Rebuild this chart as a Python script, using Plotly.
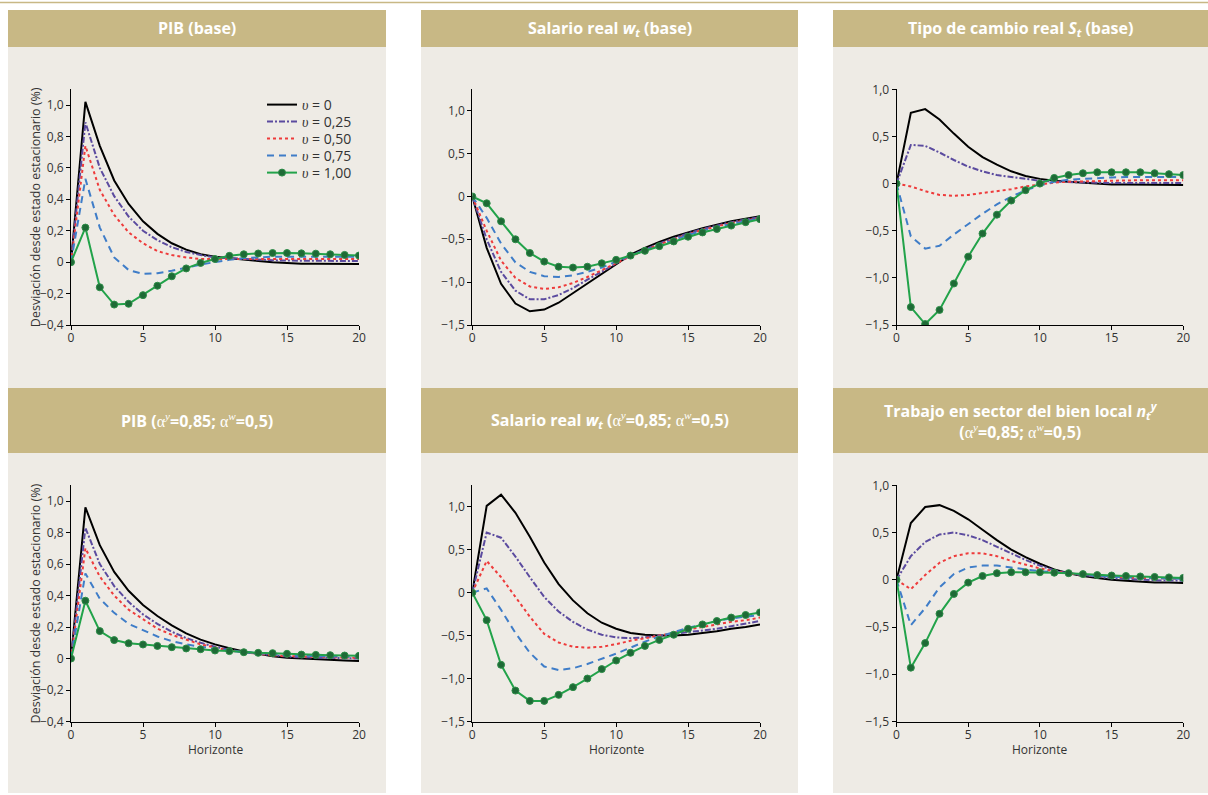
import plotly.graph_objects as go

W, H = 1208, 795

horizonte = list(range(21))
UPS = "<span style='font-family:Liberation Serif'><i>υ</i></span>"
series_labels = [UPS + " = 0", UPS + " = 0,25", UPS + " = 0,50", UPS + " = 0,75", UPS + " = 1,00"]

# Panel 1: PIB (base)
pib_base_v000 = [0, 1.02, 0.74, 0.52, 0.37, 0.26, 0.18, 0.12, 0.08, 0.05, 0.035, 0.025, 0.015, 0.008, 0.0, -0.005, -0.01, -0.01, -0.012, -0.012, -0.012]
pib_base_v025 = [0, 0.89, 0.60, 0.42, 0.29, 0.20, 0.14, 0.095, 0.065, 0.045, 0.03, 0.025, 0.02, 0.015, 0.012, 0.01, 0.01, 0.008, 0.008, 0.007, 0.007]
pib_base_v050 = [0, 0.74, 0.46, 0.30, 0.19, 0.12, 0.07, 0.045, 0.03, 0.02, 0.02, 0.02, 0.02, 0.02, 0.02, 0.02, 0.02, 0.02, 0.02, 0.02, 0.02]
pib_base_v075 = [0, 0.53, 0.22, 0.03, -0.05, -0.075, -0.07, -0.055, -0.035, -0.015, 0.0, 0.015, 0.025, 0.03, 0.035, 0.035, 0.035, 0.035, 0.035, 0.035, 0.035]
pib_base_v100 = [0, 0.22, -0.16, -0.27, -0.265, -0.21, -0.15, -0.09, -0.04, -0.005, 0.02, 0.04, 0.05, 0.055, 0.058, 0.058, 0.056, 0.054, 0.05, 0.046, 0.042]

# Panel 2: Salario real (base)
sal_base_v000 = [0, -0.60, -1.02, -1.25, -1.34, -1.32, -1.24, -1.13, -1.01, -0.90, -0.79, -0.68, -0.60, -0.53, -0.47, -0.42, -0.37, -0.33, -0.29, -0.26, -0.23]
sal_base_v025 = [0, -0.50, -0.88, -1.10, -1.20, -1.20, -1.15, -1.07, -0.97, -0.88, -0.78, -0.69, -0.62, -0.55, -0.49, -0.43, -0.38, -0.34, -0.30, -0.27, -0.24]
sal_base_v050 = [0, -0.40, -0.75, -0.95, -1.05, -1.08, -1.06, -1.01, -0.94, -0.86, -0.78, -0.70, -0.63, -0.56, -0.50, -0.44, -0.39, -0.35, -0.31, -0.28, -0.25]
sal_base_v075 = [0, -0.25, -0.55, -0.77, -0.88, -0.93, -0.94, -0.92, -0.88, -0.83, -0.76, -0.69, -0.63, -0.57, -0.51, -0.45, -0.40, -0.36, -0.32, -0.29, -0.26]
sal_base_v100 = [0, -0.08, -0.29, -0.50, -0.66, -0.76, -0.82, -0.83, -0.82, -0.78, -0.74, -0.69, -0.635, -0.58, -0.525, -0.47, -0.42, -0.38, -0.34, -0.30, -0.265]

# Panel 3: Tipo de cambio real (base)
tcr_base_v000 = [0, 0.75, 0.79, 0.68, 0.53, 0.39, 0.28, 0.20, 0.13, 0.08, 0.05, 0.03, 0.02, 0.01, 0.0, -0.01, -0.01, -0.012, -0.014, -0.014, -0.014]
tcr_base_v025 = [0, 0.41, 0.40, 0.33, 0.25, 0.18, 0.13, 0.09, 0.07, 0.05, 0.03, 0.02, 0.015, 0.01, 0.008, 0.006, 0.005, 0.005, 0.005, 0.005, 0.005]
tcr_base_v050 = [0, -0.03, -0.08, -0.12, -0.13, -0.12, -0.10, -0.08, -0.06, -0.03, -0.01, 0.01, 0.02, 0.025, 0.03, 0.03, 0.033, 0.035, 0.036, 0.036, 0.036]
tcr_base_v075 = [0, -0.56, -0.69, -0.66, -0.54, -0.43, -0.32, -0.22, -0.14, -0.07, -0.02, 0.02, 0.04, 0.05, 0.06, 0.065, 0.07, 0.07, 0.07, 0.07, 0.07]
tcr_base_v100 = [0, -1.31, -1.49, -1.34, -1.06, -0.775, -0.53, -0.33, -0.18, -0.07, 0.0, 0.06, 0.09, 0.11, 0.12, 0.12, 0.12, 0.12, 0.11, 0.10, 0.09]

# Panel 4: PIB (alfa)
pib_alfa_v000 = [0, 0.96, 0.72, 0.55, 0.43, 0.34, 0.27, 0.21, 0.16, 0.12, 0.09, 0.065, 0.045, 0.03, 0.015, 0.005, 0.0, -0.005, -0.01, -0.012, -0.015]
pib_alfa_v025 = [0, 0.83, 0.60, 0.46, 0.36, 0.28, 0.22, 0.17, 0.13, 0.10, 0.075, 0.055, 0.04, 0.03, 0.02, 0.012, 0.008, 0.005, 0.003, 0.001, 0.0]
pib_alfa_v050 = [0, 0.70, 0.52, 0.40, 0.31, 0.25, 0.19, 0.15, 0.12, 0.09, 0.07, 0.05, 0.04, 0.03, 0.02, 0.015, 0.012, 0.01, 0.008, 0.006, 0.005]
pib_alfa_v075 = [0, 0.54, 0.38, 0.29, 0.22, 0.18, 0.14, 0.11, 0.09, 0.075, 0.06, 0.05, 0.04, 0.035, 0.025, 0.02, 0.017, 0.015, 0.013, 0.011, 0.01]
pib_alfa_v100 = [0, 0.367, 0.174, 0.117, 0.097, 0.089, 0.08, 0.072, 0.064, 0.059, 0.051, 0.047, 0.04, 0.036, 0.034, 0.03, 0.025, 0.023, 0.021, 0.019, 0.017]

# Panel 5: Salario real (alfa)
sal_alfa_v000 = [0, 1.01, 1.14, 0.93, 0.65, 0.35, 0.10, -0.09, -0.24, -0.35, -0.42, -0.47, -0.49, -0.50, -0.50, -0.49, -0.47, -0.45, -0.42, -0.40, -0.37]
sal_alfa_v025 = [0, 0.70, 0.64, 0.42, 0.18, -0.05, -0.22, -0.34, -0.43, -0.49, -0.52, -0.53, -0.52, -0.50, -0.48, -0.46, -0.44, -0.42, -0.39, -0.36, -0.33]
sal_alfa_v050 = [0, 0.37, 0.18, -0.05, -0.28, -0.48, -0.58, -0.63, -0.64, -0.63, -0.60, -0.56, -0.53, -0.50, -0.47, -0.43, -0.40, -0.37, -0.34, -0.32, -0.29]
sal_alfa_v075 = [0, 0.05, -0.20, -0.47, -0.70, -0.86, -0.90, -0.88, -0.83, -0.77, -0.71, -0.64, -0.57, -0.51, -0.46, -0.41, -0.37, -0.33, -0.30, -0.28, -0.26]
sal_alfa_v100 = [0, -0.32, -0.84, -1.14, -1.26, -1.26, -1.19, -1.10, -1.00, -0.89, -0.79, -0.70, -0.62, -0.55, -0.49, -0.42, -0.37, -0.33, -0.29, -0.26, -0.23]

# Panel 6: Trabajo en sector del bien local (alfa)
trab_alfa_v000 = [0, 0.60, 0.77, 0.79, 0.73, 0.64, 0.53, 0.42, 0.32, 0.24, 0.17, 0.11, 0.07, 0.04, 0.02, 0.0, -0.01, -0.02, -0.03, -0.03, -0.035]
trab_alfa_v025 = [0, 0.25, 0.40, 0.48, 0.50, 0.47, 0.42, 0.35, 0.28, 0.21, 0.15, 0.10, 0.07, 0.05, 0.03, 0.015, 0.01, 0.0, -0.005, -0.008, -0.01]
trab_alfa_v050 = [0, -0.10, 0.05, 0.18, 0.25, 0.28, 0.28, 0.25, 0.20, 0.16, 0.12, 0.09, 0.07, 0.05, 0.04, 0.03, 0.025, 0.02, 0.015, 0.012, 0.01]
trab_alfa_v075 = [0, -0.48, -0.30, -0.08, 0.06, 0.13, 0.15, 0.15, 0.13, 0.11, 0.09, 0.08, 0.07, 0.05, 0.04, 0.03, 0.025, 0.02, 0.015, 0.012, 0.01]
trab_alfa_v100 = [0, -0.93, -0.67, -0.36, -0.15, -0.03, 0.04, 0.07, 0.08, 0.08, 0.08, 0.075, 0.07, 0.06, 0.05, 0.045, 0.04, 0.035, 0.03, 0.025, 0.02]

x_ticks = [0, 5, 10, 15, 20]
x_ticktext = ["0", "5", "10", "15", "20"]
pib_yticks = [-0.4, -0.2, 0, 0.2, 0.4, 0.6, 0.8, 1.0]
pib_yticktext = ["\u22120,4", "\u22120,2", "0", "0,2", "0,4", "0,6", "0,8", "1,0"]
big_yticks = [-1.5, -1.0, -0.5, 0, 0.5, 1.0]
big_yticktext = ["\u22121,5", "\u22121,0", "\u22120,5", "0", "0,5", "1,0"]

alpha = "<span style='font-family:Liberation Serif;font-weight:normal'>α<sup><i>y</i></sup></span>"
alphaw = "<span style='font-family:Liberation Serif;font-weight:normal'>α<sup><i>w</i></sup></span>"
titles = [
    "PIB (base)",
    "Salario real <i>w</i><sub><i>t</i></sub> (base)",
    "Tipo de cambio real <i>S</i><sub><i>t</i></sub> (base)",
    "PIB (" + alpha + "=0,85; " + alphaw + "=0,5)",
    "Salario real <i>w</i><sub><i>t</i></sub> (" + alpha + "=0,85; " + alphaw + "=0,5)",
    "Trabajo en sector del bien local <i>n</i><sub><i>t</i></sub><sup><i>y</i></sup><br>(" + alpha + "=0,85; " + alphaw + "=0,5)",
]

panel_series = [
    [pib_base_v000, pib_base_v025, pib_base_v050, pib_base_v075, pib_base_v100],
    [sal_base_v000, sal_base_v025, sal_base_v050, sal_base_v075, sal_base_v100],
    [tcr_base_v000, tcr_base_v025, tcr_base_v050, tcr_base_v075, tcr_base_v100],
    [pib_alfa_v000, pib_alfa_v025, pib_alfa_v050, pib_alfa_v075, pib_alfa_v100],
    [sal_alfa_v000, sal_alfa_v025, sal_alfa_v050, sal_alfa_v075, sal_alfa_v100],
    [trab_alfa_v000, trab_alfa_v025, trab_alfa_v050, trab_alfa_v075, trab_alfa_v100],
]

# Layout geometry (pixels)
panel_x = [(8, 386), (421, 798), (833, 1208)]
plot_x = [(71, 359), (472.3, 760), (896.5, 1183.3)]
row_header = [(10, 47), (388, 453)]
row_body = [(47, 388), (453, 793)]
row_plot = [(89.3, 325), (485.3, 721.5)]
yranges = [[-0.4, 1.1], [-1.5, 1.25], [-1.5, 1.0]]
yticks = [(pib_yticks, pib_yticktext), (big_yticks, big_yticktext), (big_yticks, big_yticktext)]
legend_rows_px = [105, 122, 139, 156, 173]
legend_left_px = 262

line_styles = [
    dict(color="#000000", width=2, dash="solid"),
    dict(color="#5B4B9F", width=2, dash="6px,2px,2px,2px"),
    dict(color="#EE3B3B", width=2, dash="3px,3px"),
    dict(color="#3F7DC8", width=2, dash="7px,5px"),
    dict(color="#22A34A", width=2, dash="solid"),
]

HEADER = "#C8B885"
BODY = "#EEEBE5"
FONT = "Open Sans"

fig = go.Figure()
shapes = []
annotations = []

# top rule
shapes.append(dict(type="line", xref="paper", yref="paper", x0=0, x1=1, y0=1 - 2.5 / H, y1=1 - 2.5 / H,
                   line=dict(color=HEADER, width=1.5), layer="below"))

legend_names = ["legend", "legend2", "legend3", "legend4", "legend5"]

for p in range(6):
    r, c = divmod(p, 3)
    ax = "" if p == 0 else str(p + 1)
    xa, ya = "x" + ax, "y" + ax
    px0, px1 = panel_x[c]
    shapes.append(dict(type="rect", xref="paper", yref="paper", x0=px0 / W, x1=px1 / W,
                       y0=1 - row_body[r][1] / H, y1=1 - row_body[r][0] / H,
                       fillcolor=BODY, line=dict(width=0), layer="below"))
    shapes.append(dict(type="rect", xref="paper", yref="paper", x0=px0 / W, x1=px1 / W,
                       y0=1 - row_header[r][1] / H, y1=1 - row_header[r][0] / H,
                       fillcolor=HEADER, line=dict(width=0), layer="below"))
    annotations.append(dict(xref="paper", yref="paper", x=(px0 + px1) / 2 / W,
                            y=1 - (row_header[r][0] + row_header[r][1]) / 2 / H,
                            text="<b>" + titles[p] + "</b>", showarrow=False,
                            font=dict(family=FONT, size=16, color="white"),
                            xanchor="center", yanchor="middle", align="center"))
    for k in range(5):
        st = line_styles[k]
        tr = dict(x=horizonte, y=panel_series[p][k], xaxis=xa, yaxis=ya, name=series_labels[k],
                  line=st, showlegend=(p == 0), legend=legend_names[k], hoverinfo="skip")
        if k == 4:
            tr.update(mode="lines+markers",
                      marker=dict(size=7, color="#1E6A36", line=dict(color="#2C8C47", width=1)))
        else:
            tr.update(mode="lines")
        fig.add_trace(go.Scatter(**tr))

    xdom = [plot_x[c][0] / W, plot_x[c][1] / W]
    ydom = [1 - row_plot[r][1] / H, 1 - row_plot[r][0] / H]
    axis_common = dict(showline=True, linecolor="black", linewidth=1, ticks="outside", ticklen=4,
                       tickcolor="black", tickwidth=1, showgrid=False, zeroline=False, fixedrange=True,
                       automargin=False, tickfont=dict(family=FONT, size=12, color="#333333"))
    fig.layout["xaxis" + ax] = dict(domain=xdom, range=[0, 20], anchor=ya, tickvals=x_ticks,
                                    ticktext=x_ticktext, ticklabelstandoff=-2, **axis_common)
    fig.layout["yaxis" + ax] = dict(domain=ydom, range=yranges[c], anchor=xa, tickvals=yticks[c][0],
                                    ticktext=yticks[c][1], **axis_common)
    if r == 1:
        annotations.append(dict(xref="paper", yref="paper", x=(plot_x[c][0] + plot_x[c][1]) / 2 / W,
                                y=1 - 749 / H, text="Horizonte", showarrow=False,
                                font=dict(family=FONT, size=12, color="#333333"),
                                xanchor="center", yanchor="middle"))
    if c == 0:
        annotations.append(dict(xref="paper", yref="paper", x=35 / W,
                                y=1 - (row_plot[r][0] + row_plot[r][1]) / 2 / H,
                                text="Desviación desde estado estacionario (%)", showarrow=False,
                                textangle=-90, font=dict(family=FONT, size=12.5, color="#333333"),
                                xanchor="center", yanchor="middle"))

layout_legends = {}
for k, name in enumerate(legend_names):
    layout_legends[name] = dict(x=legend_left_px / W, y=1 - legend_rows_px[k] / H, xanchor="left",
                                yanchor="middle", bgcolor="rgba(0,0,0,0)", borderwidth=0,
                                font=dict(family=FONT, size=14, color="#333333"), itemwidth=30)

fig.update_layout(
    width=W, height=H, margin=dict(l=0, r=0, t=0, b=0, pad=0, autoexpand=False),
    paper_bgcolor="white", plot_bgcolor="rgba(0,0,0,0)",
    shapes=shapes, annotations=annotations,
    showlegend=True,
    **layout_legends,
)

fig.write_html("out.html")
